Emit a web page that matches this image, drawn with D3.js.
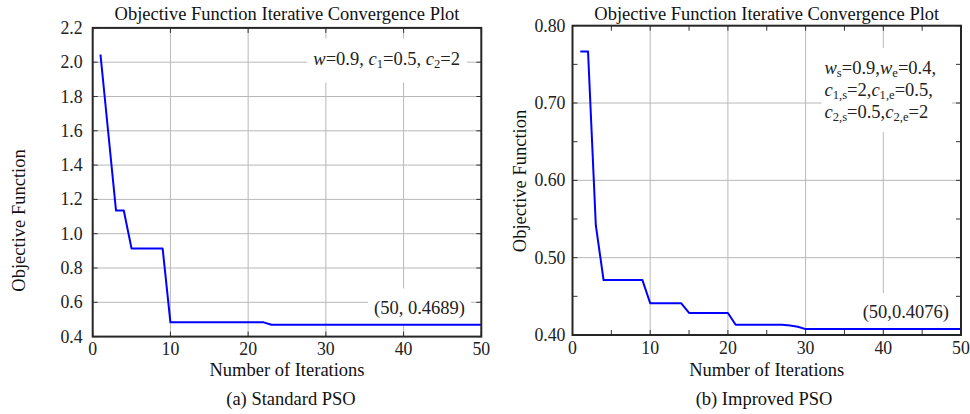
<!DOCTYPE html>
<html>
<head>
<meta charset="utf-8">
<script src="https://cdn.jsdelivr.net/npm/d3@7"></script>
<style>
  html, body { margin: 0; padding: 0; background: #fff; }
  svg { display: block; }
</style>
</head>
<body>
<svg id="chart" width="970" height="414"></svg>
<script>
// ---------------- DATA ----------------
const iterations = [1,2,3,4,5,6,7,8,9,10,11,12,13,14,15,16,17,18,19,20,21,22,23,24,25,
  26,27,28,29,30,31,32,33,34,35,36,37,38,39,40,41,42,43,44,45,46,47,48,49,50];

const standardPSO = [2.045,1.590,1.135,1.135,0.913,0.913,0.913,0.913,0.913,
  0.483,0.483,0.483,0.483,0.483,0.483,0.483,0.483,0.483,0.483,0.483,0.483,0.483,
  0.4689,0.4689,0.4689,0.4689,0.4689,0.4689,0.4689,0.4689,0.4689,0.4689,0.4689,0.4689,
  0.4689,0.4689,0.4689,0.4689,0.4689,0.4689,0.4689,0.4689,0.4689,0.4689,0.4689,0.4689,
  0.4689,0.4689,0.4689,0.4689];

const improvedPSO = [0.7665,0.7665,0.542,0.471,0.471,0.471,0.471,0.471,0.471,
  0.441,0.441,0.441,0.441,0.441,0.4285,0.4285,0.4285,0.4285,0.4285,0.4285,
  0.4133,0.4133,0.4133,0.4133,0.4133,0.4133,0.4133,0.4122,0.4106,
  0.4076,0.4076,0.4076,0.4076,0.4076,0.4076,0.4076,0.4076,0.4076,0.4076,0.4076,
  0.4076,0.4076,0.4076,0.4076,0.4076,0.4076,0.4076,0.4076,0.4076,0.4076];

const xTicks = [0,10,20,30,40,50];
const xMinorImproved = [5,15,25,35,45];
const yTicksStandard = [0.4,0.6,0.8,1.0,1.2,1.4,1.6,1.8,2.0,2.2];
const yTicksImproved = [0.40,0.50,0.60,0.70,0.80];
const yMinorImproved = [0.45,0.55,0.65,0.75];

const titleText = "Objective Function Iterative Convergence Plot";
const xLabelText = "Number of Iterations";
const yLabelText = "Objective Function";
const captions = ["(a) Standard PSO", "(b) Improved PSO"];
const endLabels = ["(50, 0.4689)", "(50,0.4076)"];

// ---------------- DRAWING ----------------
const FONT = "'Liberation Serif','Times New Roman',serif";
const FS = 18.5;
const FS_TICK = 17.8;
const svg = d3.select("#chart");

function panel(cfg) {
  const g = svg.append("g");
  const x = d3.scaleLinear().domain([0, 50]).range([cfg.x0, cfg.x1]);
  const y = d3.scaleLinear().domain(cfg.yDomain).range([cfg.yB, cfg.yT]);

  // grid
  const grid = g.append("g");
  grid.selectAll("line.gx").data(xTicks.slice(1, -1)).join("line")
    .attr("x1", d => x(d)).attr("x2", d => x(d))
    .attr("y1", cfg.yT).attr("y2", cfg.yB)
    .attr("stroke", "#b8b8b8").attr("stroke-width", 1);
  grid.selectAll("line.gy").data(cfg.yTicks.slice(1, -1)).join("line")
    .attr("x1", cfg.x0).attr("x2", cfg.x1)
    .attr("y1", d => y(d)).attr("y2", d => y(d))
    .attr("stroke", "#b8b8b8").attr("stroke-width", 1);

  // inward ticks (axes on all four sides)
  const tickLen = 5;
  const mkX = (vals, len) => {
    g.append("g").selectAll("line").data(vals).join("line")
      .attr("x1", d => x(d)).attr("x2", d => x(d))
      .attr("y1", cfg.yB).attr("y2", cfg.yB - len)
      .attr("stroke", "#333").attr("stroke-width", 1);
    g.append("g").selectAll("line").data(vals).join("line")
      .attr("x1", d => x(d)).attr("x2", d => x(d))
      .attr("y1", cfg.yT).attr("y2", cfg.yT + len)
      .attr("stroke", "#333").attr("stroke-width", 1);
  };
  const mkY = (vals, len) => {
    g.append("g").selectAll("line").data(vals).join("line")
      .attr("x1", cfg.x0).attr("x2", cfg.x0 + len)
      .attr("y1", d => y(d)).attr("y2", d => y(d))
      .attr("stroke", "#333").attr("stroke-width", 1);
    g.append("g").selectAll("line").data(vals).join("line")
      .attr("x1", cfg.x1).attr("x2", cfg.x1 - len)
      .attr("y1", d => y(d)).attr("y2", d => y(d))
      .attr("stroke", "#333").attr("stroke-width", 1);
  };
  mkX(xTicks, tickLen);
  mkY(cfg.yTicks, tickLen);
  if (cfg.xMinor) mkX(cfg.xMinor, tickLen);
  if (cfg.yMinor) mkY(cfg.yMinor, tickLen);

  // annotation boxes (white background text)
  function boxedText(node, pad) {
    const bb = node.node().getBBox();
    g.insert("rect", () => node.node())
      .attr("x", bb.x - pad.l).attr("y", bb.y - pad.t)
      .attr("width", bb.width + pad.l + pad.r).attr("height", bb.height + pad.t + pad.b)
      .attr("fill", "#fff");
  }
  const annG = g.append("g");
  cfg.annotation(annG);
  boxedText(annG, cfg.annPad);

  const endT = g.append("text")
    .attr("x", cfg.endX).attr("y", cfg.endY)
    .attr("text-anchor", "end")
    .attr("font-family", FONT).attr("font-size", FS).attr("fill", "#222")
    .text(cfg.endLabel);
  boxedText(endT, {l: 6, r: 6, t: 9, b: 6});

  // line
  const line = d3.line().x(d => x(d[0])).y(d => y(d[1]));
  g.append("path")
    .datum(iterations.map((it, i) => [it, cfg.values[i]]))
    .attr("d", line)
    .attr("fill", "none").attr("stroke", "#0000ff").attr("stroke-width", 2)
    .attr("stroke-linejoin", "round");

  // frame
  g.append("rect")
    .attr("x", cfg.x0).attr("y", cfg.yT)
    .attr("width", cfg.x1 - cfg.x0).attr("height", cfg.yB - cfg.yT)
    .attr("fill", "none").attr("stroke", "#262626").attr("stroke-width", 2);

  // tick labels
  g.append("g").selectAll("text").data(xTicks).join("text")
    .attr("x", d => x(d)).attr("y", cfg.yB + 18.5)
    .attr("text-anchor", "middle")
    .attr("font-family", FONT).attr("font-size", FS_TICK).attr("fill", "#222")
    .text(d => d);
  g.append("g").selectAll("text").data(cfg.yTicks).join("text")
    .attr("x", cfg.x0 - cfg.yLabGap).attr("y", d => y(d))
    .attr("dy", "0.34em")
    .attr("text-anchor", "end")
    .attr("font-family", FONT).attr("font-size", FS_TICK).attr("fill", "#222")
    .text(d => d3.format(cfg.yFmt)(d));

  // title
  g.append("text")
    .attr("x", (cfg.x0 + cfg.x1) / 2).attr("y", cfg.titleY)
    .attr("text-anchor", "middle")
    .attr("font-family", FONT).attr("font-size", FS).attr("fill", "#111")
    .text(titleText);
  // x label
  g.append("text")
    .attr("x", (cfg.x0 + cfg.x1) / 2).attr("y", 375.5)
    .attr("text-anchor", "middle")
    .attr("font-family", FONT).attr("font-size", FS).attr("fill", "#111")
    .text(xLabelText);
  // y label
  g.append("text")
    .attr("transform", `translate(${cfg.yLabX},${cfg.yLabY}) rotate(-90)`)
    .attr("text-anchor", "middle")
    .attr("font-family", FONT).attr("font-size", FS).attr("fill", "#111")
    .text(yLabelText);
  // caption
  g.append("text")
    .attr("x", cfg.capX).attr("y", 405)
    .attr("text-anchor", "middle")
    .attr("font-family", FONT).attr("font-size", FS).attr("fill", "#111")
    .text(cfg.caption);
}

function sub(t, main, s) {
  // main text italic, subscript upright
  t.append("tspan").attr("font-style", "italic").text(main);
  t.append("tspan").attr("font-size", FS * 0.68).attr("baseline-shift", "-3").text(s);
}

panel({
  x0: 92.7, x1: 481.3, yT: 27.9, yB: 336.6,
  yDomain: [0.4, 2.2], yTicks: yTicksStandard, yFmt: ".1f", yLabGap: 10,
  values: standardPSO,
  titleY: 20, yLabX: 25, yLabY: 220.5, capX: 291, caption: captions[0],
  endLabel: endLabels[0], endX: 465, endY: 313.5,
  annPad: {l: 6, r: 7, t: 10, b: 12},
  annotation: (ag) => {
    const t = ag.append("text").attr("x", 460).attr("y", 64.5)
      .attr("text-anchor", "end")
      .attr("font-family", FONT).attr("font-size", FS).attr("fill", "#222");
    t.append("tspan").attr("font-style", "italic").text("w");
    t.append("tspan").text("=0.9, ");
    sub(t, "c", "1");
    t.append("tspan").text("=0.5, ");
    sub(t, "c", "2");
    t.append("tspan").text("=2");
  }
});

panel({
  x0: 572.5, x1: 961, yT: 25.7, yB: 335,
  yDomain: [0.40, 0.80], yTicks: yTicksImproved, yFmt: ".2f", yLabGap: 7,
  xMinor: xMinorImproved, yMinor: yMinorImproved,
  values: improvedPSO,
  titleY: 19.5, yLabX: 526, yLabY: 181, capX: 764, caption: captions[1],
  endLabel: endLabels[1], endX: 949, endY: 318,
  annPad: {l: 3, r: 16, t: 10, b: 8},
  annotation: (ag) => {
    const mk = (yy) => ag.append("text").attr("x", 824.5).attr("y", yy)
      .attr("font-family", FONT).attr("font-size", FS).attr("fill", "#222");
    const l1 = mk(74);
    sub(l1, "w", "s"); l1.append("tspan").text("=0.9,");
    sub(l1, "w", "e"); l1.append("tspan").text("=0.4,");
    const l2 = mk(96);
    sub(l2, "c", "1,s"); l2.append("tspan").text("=2,");
    sub(l2, "c", "1,e"); l2.append("tspan").text("=0.5,");
    const l3 = mk(118);
    sub(l3, "c", "2,s"); l3.append("tspan").text("=0.5,");
    sub(l3, "c", "2,e"); l3.append("tspan").text("=2");
  }
});
</script>
</body>
</html>
